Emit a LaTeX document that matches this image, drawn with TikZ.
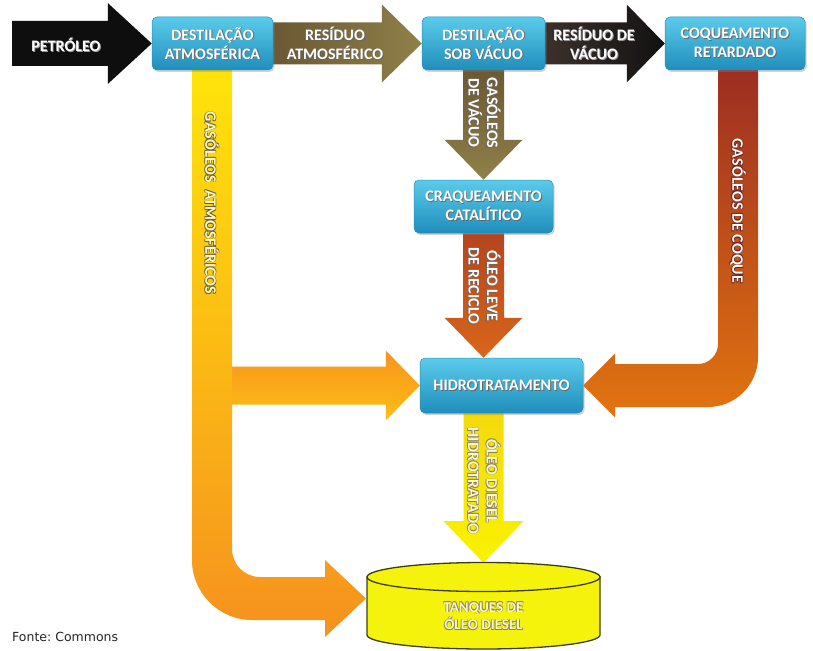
\documentclass[tikz,border=0pt]{standalone}
\usepackage{fontspec}
\setmainfont{Carlito}[BoldFont={Carlito Bold}]
\newfontfamily\labfont{Carlito Bold}
\newfontfamily\footfont{DejaVu Sans}
\usetikzlibrary{calc,shadows}
\pgfdeclarelayer{bg}
\pgfsetlayers{bg,main}
\definecolor{boxtop}{HTML}{5BCBEB}
\definecolor{boxbot}{HTML}{1F8EBB}
\definecolor{boxline}{HTML}{2A8DB5}
\definecolor{arrblack}{HTML}{0E0E0E}
\definecolor{olivedark}{HTML}{6A5933}
\definecolor{olivelight}{HTML}{908049}
\definecolor{vacA}{HTML}{3C302B}
\definecolor{vacB}{HTML}{111111}
\definecolor{atmtop}{HTML}{FFE40A}
\definecolor{atmmid}{HTML}{FCA81B}
\definecolor{atmbot}{HTML}{F6911E}
\definecolor{brtop}{HTML}{F7941D}
\definecolor{brbot}{HTML}{FDBE14}
\definecolor{coketop}{HTML}{9C2D22}
\definecolor{cokebot}{HTML}{E27410}
\definecolor{rustA}{HTML}{B5441D}
\definecolor{rustB}{HTML}{D8661A}
\definecolor{dieselA}{HTML}{F3DA0C}
\definecolor{dieselB}{HTML}{FAF200}
\definecolor{tankfill}{HTML}{F5F30C}
\definecolor{tankline}{HTML}{3D3D15}
\definecolor{olout}{HTML}{6E6230}
\definecolor{lightfill}{HTML}{FFFBC8}
\newcommand\shtx[2][black!60]{\leavevmode\rlap{\textcolor{#1}{\kern.9pt\raisebox{-.9pt}{#2}}}#2}
\newcommand\outtx[3]{\leavevmode\rlap{\textcolor{#1}{\kern.6pt\raisebox{.6pt}{#3}}}\rlap{\textcolor{#1}{\kern-.6pt\raisebox{.6pt}{#3}}}\rlap{\textcolor{#1}{\kern.6pt\raisebox{-.6pt}{#3}}}\rlap{\textcolor{#1}{\kern-.6pt\raisebox{-.6pt}{#3}}}\textcolor{#2}{#3}}
\newcommand\harrow[6]{\path[#1] ($(#2)+(0,-#4)$) -- ($(#3)+(-#6,-#4)$) -- ($(#3)+(-#6,-#5)$) -- (#3) -- ($(#3)+(-#6,#5)$) -- ($(#3)+(-#6,#4)$) -- ($(#2)+(0,#4)$) -- cycle;}
\newcommand\varrow[6]{\path[#1] ($(#2)+(-#4,0)$) -- ($(#3)+(-#4,-#6)$) -- ($(#3)+(-#5,-#6)$) -- (#3) -- ($(#3)+(#5,-#6)$) -- ($(#3)+(#4,-#6)$) -- ($(#2)+(#4,0)$) -- cycle;}
\begin{document}
\begin{tikzpicture}[x=1pt,y=-1pt,
  unit/.style={rounded corners=5pt, top color=boxtop, bottom color=boxbot, draw=boxline, line width=0.5pt,
    align=center, text=white, inner sep=0pt, font=\labfont\fontsize{16}{19}\selectfont,
    drop shadow={opacity=0.35, shadow xshift=1.5pt, shadow yshift=-2pt}},
  lab/.style={align=center, text=white, inner sep=0pt, font=\labfont\fontsize{16}{18.5}\selectfont},
  vlab/.style={lab, rotate=-90}]
\useasboundingbox (0,0) rectangle (813,650);
% process units
\node[unit, minimum width=121pt, minimum height=53pt] (da) at (212.5,43.5) {\shtx{DESTILAÇÃO}\\\shtx{ATMOSFÉRICA}};
\node[unit, minimum width=123pt, minimum height=53pt] (dv) at (483.5,43.5) {\shtx{DESTILAÇÃO}\\\shtx{SOB VÁCUO}};
\node[unit, minimum width=140pt, minimum height=53pt] (cq) at (735,43.5) {\shtx{COQUEAMENTO}\\\shtx{RETARDADO}};
\node[unit, minimum width=139pt, minimum height=53pt] (cc) at (483.5,206.5) {\shtx{CRAQUEAMENTO}\\\shtx{CATALÍTICO}};
\node[unit, minimum width=163pt, minimum height=55pt] (ht) at (501.5,385.5) {\shtx{HIDROTRATAMENTO}};
% anchor coordinates
\coordinate (src) at (12,43.5);
\coordinate (htin) at (cc.south |- ht.north);
\coordinate (htout) at (cc.south |- ht.south);
\coordinate (tanktop) at (483.5,563);
\coordinate (tankin) at (366,598.5);
\coordinate (brin) at (232,385.5);
% tank
\path[fill=tankfill, draw=tankline, line width=1.3pt] (367,577) -- (367,635) .. controls (367,642.7) and (419.2,649) .. (483.5,649) .. controls (547.8,649) and (600,642.7) .. (600,635) -- (600,577) -- cycle;
\path[fill=tankfill, draw=tankline, line width=1.3pt] (483.5,577) ellipse [x radius=116.5pt, y radius=14.5pt];
\node[lab, font=\labfont\fontsize{15}{17.5}\selectfont] (tank) at (483.5,616) {\outtx{olout!80}{lightfill}{TANQUES DE}\\\outtx{olout!80}{lightfill}{ÓLEO DIESEL}};
% connectors
\begin{pgfonlayer}{bg}
\fill[white] (0,0) rectangle (813,650);
\harrow{fill=arrblack}{src}{da.west}{22.5}{40.5}{44}
\harrow{left color=olivedark, right color=olivelight}{da.east}{dv.west}{21}{39}{40}
\harrow{left color=vacA, right color=vacB}{dv.east}{cq.west}{21}{39}{38}
\varrow{top color=olivedark, bottom color=olivelight}{dv.south}{cc.north}{20.5}{39}{40}
\varrow{top color=rustA, bottom color=rustB}{cc.south}{htin}{20.5}{39}{40}
\varrow{top color=dieselA, bottom color=dieselB}{htout}{tanktop}{20}{40}{42}
\harrow{top color=brtop, bottom color=brbot}{brin}{ht.west}{19}{35}{34}
% atmospheric gas oil: down then right to the tank
\path[top color=atmtop, middle color=atmmid, bottom color=atmbot]
  (192,66) -- (192,560) .. controls (192,593.1) and (218.9,620) .. (252,620) -- (325,620) -- (325,637)
  -- (tankin) -- (325,560) -- (325,577) -- (260,577) .. controls (244.5,577) and (232,564.5) .. (232,549)
  -- (232,66) -- cycle;
% coker gas oil: down then left to hydrotreating
\path[top color=coketop, bottom color=cokebot]
  (718,66) -- (718,344) .. controls (718,355) and (709,364) .. (698,364) -- (615,364) -- (615,353.5)
  -- (ht.east) -- (615,417.5) -- (615,407) -- (708,407) .. controls (735.6,407) and (758,384.6) .. (758,357)
  -- (758,66) -- cycle;
\end{pgfonlayer}
% labels
\node[lab] (lpet) at (66,45) {\shtx[black!40]{PETRÓLEO}};
\node[lab] (lra) at (335,44) {\shtx{RESÍDUO}\\\shtx{ATMOSFÉRICO}};
\node[lab] (lrv) at (594,44) {\shtx[black!40]{RESÍDUO DE}\\\shtx[black!40]{VÁCUO}};
\node[vlab] (lgv) at (484,113) {\shtx{GASÓLEOS}\\\shtx{DE VÁCUO}};
\node[vlab] (lol) at (484,286) {\shtx{ÓLEO LEVE}\\\shtx{DE RECICLO}};
\node[vlab] (lga) at (212,203) {\outtx{olout}{lightfill}{GASÓLEOS\ \ ATMOSFÉRICOS}};
\node[vlab] (lgc) at (738,211) {\outtx{coketop!70!black}{white}{GASÓLEOS DE COQUE}};
\node[vlab] (lod) at (484,481) {\outtx{olout!80}{lightfill}{ÓLEO DIESEL}\\\outtx{olout!80}{lightfill}{HIDROTRATADO}};
\node[anchor=west, inner sep=0pt, font=\footfont\fontsize{12.5}{14}\selectfont, text=black!85] (fonte) at (12,637) {Fonte:\ Commons};
\end{tikzpicture}
\end{document}
